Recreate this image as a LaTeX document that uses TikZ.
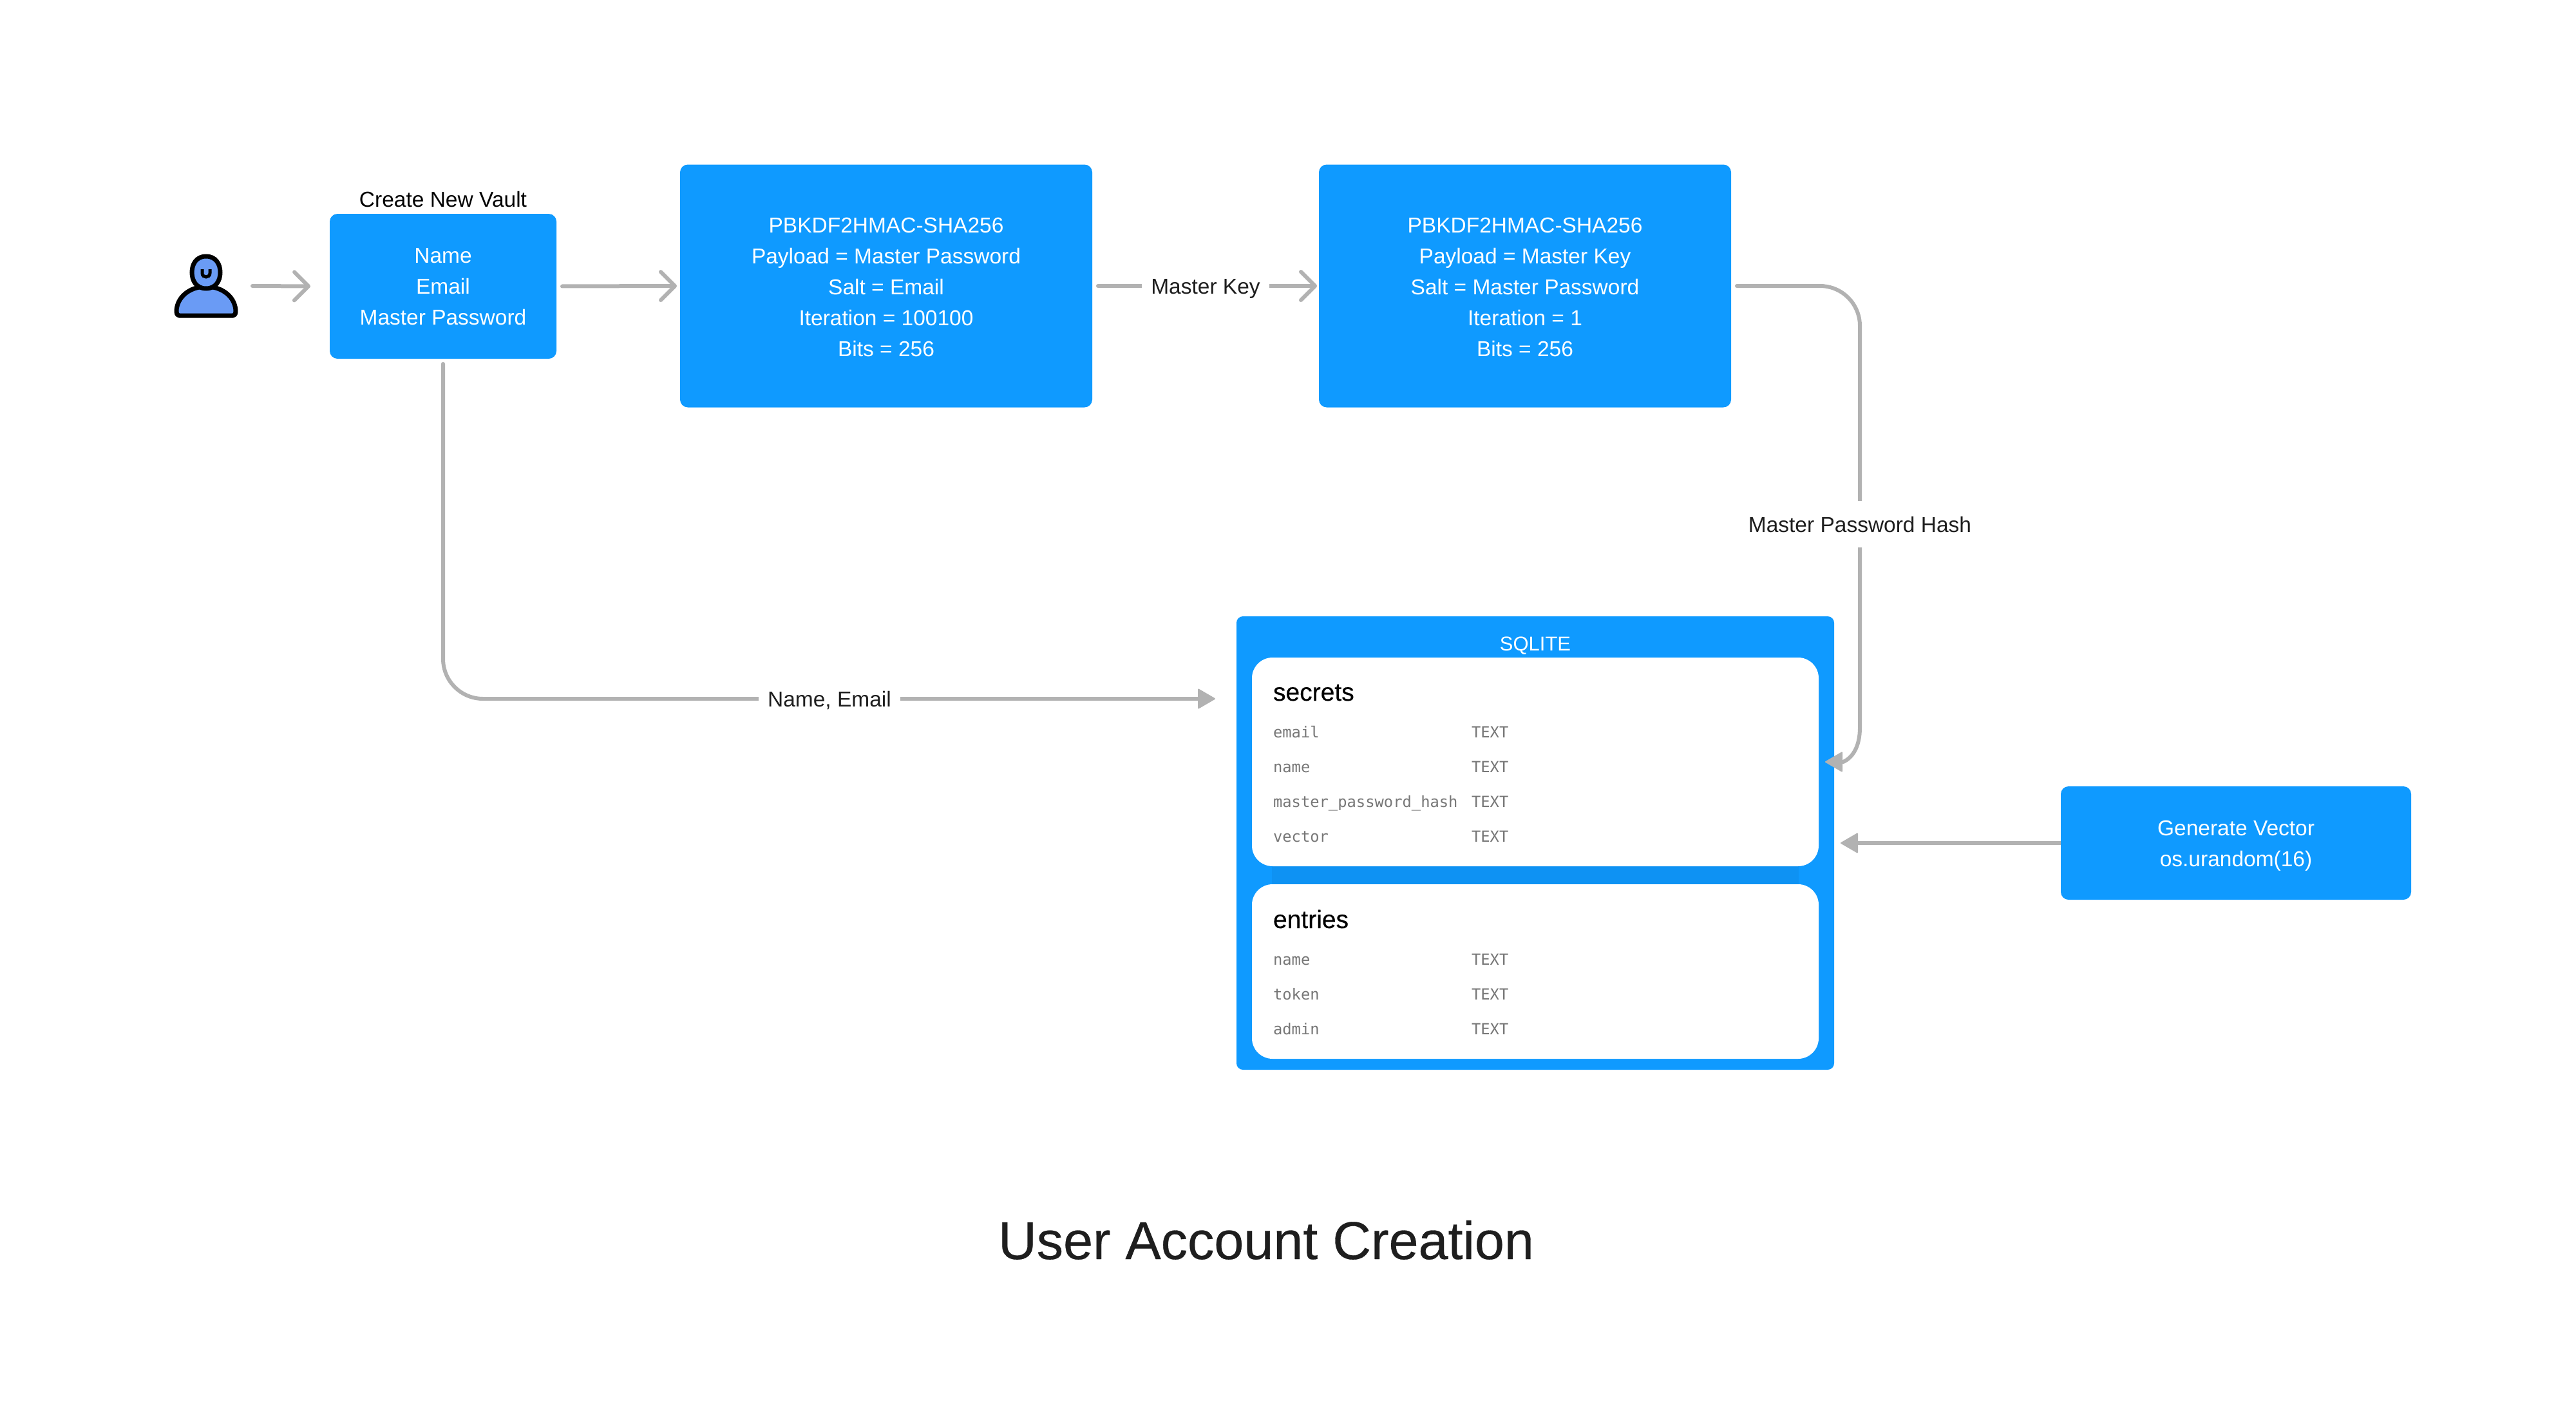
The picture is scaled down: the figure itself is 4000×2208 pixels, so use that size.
\documentclass[tikz,border=0pt]{standalone}
\usepackage{fontspec}
\setmainfont{Liberation Sans}
\newfontfamily\monof{DejaVu Sans Mono}
\newfontfamily\heavyf[FakeBold=0.35]{Liberation Sans}
\usetikzlibrary{arrows.meta,positioning,calc}
\definecolor{bluebox}{HTML}{0F9AFF}
\definecolor{bluedark}{HTML}{0E92F3}
\definecolor{conn}{HTML}{B2B2B2}
\definecolor{ink}{HTML}{1E1E1E}
\definecolor{rowgray}{HTML}{777777}
\definecolor{person}{HTML}{6A9BF5}
\tikzset{
  x=1pt,y=-1pt,
  bluenode/.style={fill=bluebox,rounded corners=12pt,inner sep=0pt,outer sep=0pt,text=white,align=center,font=\fontsize{33.5}{48}\selectfont},
  panel/.style={fill=white,rounded corners=32pt,inner sep=0pt,outer sep=0pt},
  plain/.style={inner sep=0pt,outer sep=0pt},
  lbl/.style={fill=white,inner sep=0pt,outer sep=0pt,text=ink,font=\fontsize{33.5}{48}\selectfont,inner xsep=14pt,inner ysep=24pt,text height=24pt,text depth=0pt},
  wire/.style={draw=conn,line width=6pt,line cap=round},
  openarrow/.style={wire,-{Straight Barb[length=22pt,width=44pt,line width=6pt,round]}},
  solidarrow/.style={wire,-{Triangle[length=28pt,width=32pt,round,line width=2pt]}},
  tabletitle/.style={plain,anchor=base west,text=black,font=\heavyf\fontsize{39}{44}\selectfont},
  rowtext/.style={plain,anchor=base west,text=rowgray,font=\monof\fontsize{23.8}{28}\selectfont},
}
\begin{document}
\begin{tikzpicture}
\useasboundingbox (0,0) rectangle (4000,2208);

% person
\draw[line width=7pt,fill=person,line join=round] (278,490) -- (362,490)
  .. controls (365,490) and (366,487) .. (366,484)
  .. controls (366,462) and (346,445) .. (320,445)
  .. controls (294,445) and (274,462) .. (274,484)
  .. controls (274,487) and (275,490) .. (278,490) -- cycle;
\draw[line width=7pt,fill=person] (320,398)
  .. controls (335,398) and (342,410) .. (342,423)
  .. controls (342,436) and (335,448) .. (320,448)
  .. controls (305,448) and (298,436) .. (298,423)
  .. controls (298,410) and (305,398) .. (320,398) -- cycle;
\draw[line width=5pt,line cap=butt] (314,418) -- (314,424) .. controls (314,432) and (326,432) .. (326,424) -- (326,418);

% boxes
\node[bluenode,minimum width=352pt,minimum height=225pt] (vault) at (688,444.5) {\rule{0pt}{25pt}Name\\Email\\Master Password};
\node[plain,text=black,font=\fontsize{33.5}{40}\selectfont,anchor=base] (vaultlabel) at (688,321) {Create New Vault};
\node[bluenode,minimum width=640pt,minimum height=377pt] (kdfa) at (1376,444) {\rule{0pt}{28pt}PBKDF2HMAC-SHA256\\Payload = Master Password\\Salt = Email\\Iteration = 100100\\Bits = 256};
\node[bluenode,minimum width=640pt,minimum height=377pt] (kdfb) at (2368,444) {\rule{0pt}{28pt}PBKDF2HMAC-SHA256\\Payload = Master Key\\Salt = Master Password\\Iteration = 1\\Bits = 256};
\node[bluenode,minimum width=544pt,minimum height=176pt] (gen) at (3472,1309) {\rule{0pt}{32pt}Generate Vector\\os.urandom(16)};

% database
\node[fill=bluebox,rounded corners=10pt,inner sep=0pt,outer sep=0pt,minimum width=928pt,minimum height=704pt] (sql) at (2384,1309) {};
\node[plain,text=white,font=\fontsize{31}{40}\selectfont,anchor=base] (sqltitle) at (2384,1010) {SQLITE};
\fill[bluedark] (1975,1345) rectangle (2793,1373);
\node[panel,minimum width=880pt,minimum height=324pt] (secrets) at (2384,1183) {};
\node[panel,minimum width=880pt,minimum height=271pt] (entries) at (2384,1508.5) {};

\node[tabletitle] (st) at (1977,1088) {secrets};
\node[rowtext] (s1) at (1977,1145) {email};
\node[rowtext] (s2) at (1977,1199) {name};
\node[rowtext] (s3) at (1977,1253) {master\_password\_hash};
\node[rowtext] (s4) at (1977,1307) {vector};
\node[rowtext] (t1) at (2285,1145) {TEXT};
\node[rowtext] (t2) at (2285,1199) {TEXT};
\node[rowtext] (t3) at (2285,1253) {TEXT};
\node[rowtext] (t4) at (2285,1307) {TEXT};

\node[tabletitle] (et) at (1977,1441) {entries};
\node[rowtext] (e1) at (1977,1498) {name};
\node[rowtext] (e2) at (1977,1552) {token};
\node[rowtext] (e3) at (1977,1606) {admin};
\node[rowtext] (u1) at (2285,1498) {TEXT};
\node[rowtext] (u2) at (2285,1552) {TEXT};
\node[rowtext] (u3) at (2285,1606) {TEXT};

% title
\node[plain,text=ink,font=\heavyf\fontsize{82.7}{100}\selectfont,anchor=base] (title) at (1966,1955) {User Account Creation};

% connectors
\coordinate (usrout) at (392,444);
\draw[openarrow] (usrout) -- ([xshift=-30pt]vault.west);
\draw[openarrow,shorten <=9pt,shorten >=5pt] (vault.east) -- (kdfa.west);
\draw[openarrow,shorten <=9pt,shorten >=3pt] (kdfa.east) -- node[lbl] (mk) {Master Key} (kdfb.west);

\coordinate (corner1) at (2888,444);
\coordinate (curveStart) at (2888,1130);
\coordinate (curveEnd) at (2862,1183);
\draw[wire,shorten <=9pt,rounded corners=62pt] (kdfb.east) -- (corner1) -- (curveStart);
\draw[solidarrow,shorten >=10pt] (curveStart) .. controls (2888,1160) and (2876,1177) .. (curveEnd) -- (secrets.east);
\node[lbl] (mph) at (2888,814) {Master Password Hash};

\coordinate (corner2) at (vault.south |- 0,1085);
\coordinate (sqlin) at (sql.west |- 0,1085);
\draw[solidarrow,shorten <=8pt,shorten >=33pt,rounded corners=62pt] (vault.south) -- (corner2) -- (sqlin);
\node[lbl] (ne) at (1288,1085) {Name, Email};

\draw[solidarrow,line cap=butt,shorten >=10pt] (gen.west) -- (gen.west -| sql.east);
\end{tikzpicture}
\end{document}
